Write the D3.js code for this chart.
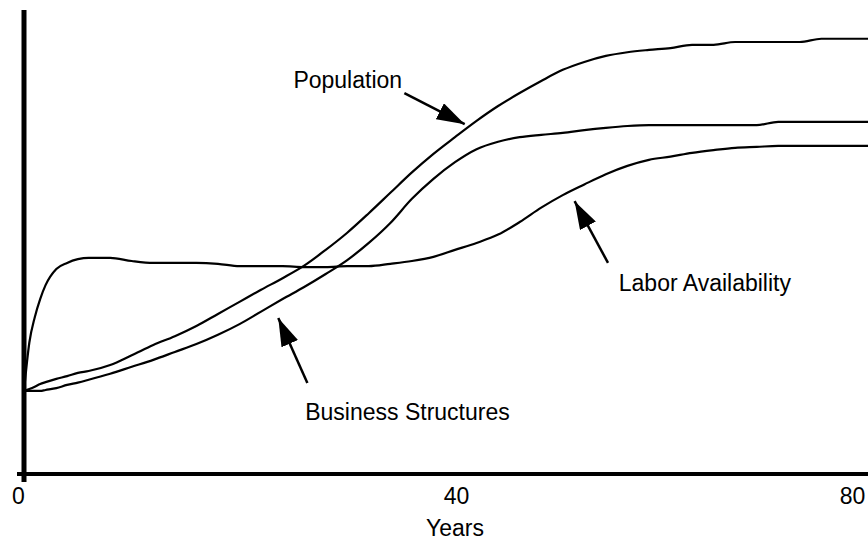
<!DOCTYPE html>
<html>
<head>
<meta charset="utf-8">
<script src="https://cdn.jsdelivr.net/npm/d3@7"></script>
<style>
  html, body { margin: 0; padding: 0; background: #fff; }
  svg { display: block; font-family: "Liberation Sans", Arial, sans-serif; }
</style>
</head>
<body>
<div id="chart"></div>
<script>
// simulation output (years, arbitrary units 0-100)
var years = [0, 0.5, 1, 1.5, 2, 3, 4, 5, 6, 8, 10, 12, 14, 16, 18, 20, 22, 24, 26, 28, 30,
  32, 34, 36, 38, 40, 42, 44, 46, 48, 50, 52, 54, 56, 58, 60, 62, 64, 66, 68, 70,
  72, 74, 76, 78, 80];

var population = [17.9, 18.3, 18.8, 19.4, 19.8, 20.5, 21.1, 21.8, 22.2, 23.5, 25.6, 27.8, 29.7, 31.9, 34.5, 37.1,
  39.7, 42.2, 44.9, 48.3, 52.0, 56.2, 60.6, 65.0, 69.0, 72.6, 76.1, 79.3, 82.1, 84.7, 87.1,
  88.8, 90.1, 90.9, 91.4, 91.8, 92.5, 92.5, 93.1, 93.1, 93.1, 93.1, 93.8, 93.8, 93.8, 93.8];

var businessStructures = [17.9, 17.9, 17.9, 17.9, 18.1, 18.5, 19.2, 19.7, 20.3, 21.6, 23.1, 24.6, 26.3, 28.0, 30.0, 32.3,
  35.0, 37.7, 40.3, 43.1, 46.1, 49.8, 54.1, 59.3, 63.6, 67.2, 70.0, 71.6, 72.6, 73.1, 73.5,
  74.1, 74.6, 75.0, 75.2, 75.2, 75.2, 75.2, 75.2, 75.2, 75.9, 75.9, 75.9, 75.9, 75.9, 75.9];

var laborAvailability = [17.9, 28.4, 33.8, 37.7, 40.7, 44.2, 45.5, 46.3, 46.6, 46.6, 45.9, 45.5, 45.5, 45.5, 45.3, 44.8,
  44.8, 44.8, 44.6, 44.6, 44.8, 44.8, 45.3, 45.9, 46.8, 48.3, 49.8, 51.6, 54.3, 57.4, 60.1,
  62.4, 64.6, 66.4, 67.7, 68.4, 69.2, 69.8, 70.3, 70.5, 70.7, 70.7, 70.7, 70.7, 70.7, 70.7];

var xTicks = [0, 40, 80];
var xTitle = 'Years';

// labels with arrows: text anchor point, arrow tail, arrow tip (years, value)
var labels = [
  { text: 'Population', at: [25.0, 83.2], from: [35.3, 82.1], to: [40.9, 75.4] },
  { text: 'Business Structures', at: [26.1, 11.6], from: [26.3, 19.6], to: [23.6, 33.6] },
  { text: 'Labor Availability', at: [55.2, 39.4], from: [54.2, 45.5], to: [51.1, 58.8] },
];

const WIDTH = 868;
const HEIGHT = 542;
const FONT_SIZE = 23;

var svg = d3
  .select('#chart')
  .append('svg')
  .attr('width', WIDTH)
  .attr('height', HEIGHT);

var x = d3.scaleLinear().domain([0, 80]).range([24, 886]);
var y = d3.scaleLinear().domain([0, 100]).range([474, 10]);

// axes: thick black lines, y axis pokes below the x axis a bit
svg
  .append('line')
  .attr('x1', x(0) - 7)
  .attr('x2', x(80))
  .attr('y1', y(0))
  .attr('y2', y(0))
  .attr('stroke', '#000')
  .attr('stroke-width', 4);

svg
  .append('line')
  .attr('x1', x(0))
  .attr('x2', x(0))
  .attr('y1', y(100))
  .attr('y2', y(0) + 8)
  .attr('stroke', '#000')
  .attr('stroke-width', 5);

var xAxis = svg
  .append('g')
  .attr('transform', `translate(0,${y(0)})`)
  .call(d3.axisBottom(x).tickValues(xTicks).tickSize(0).tickPadding(14));

xAxis.select('.domain').remove();
xAxis
  .selectAll('text')
  .attr('font-family', '"Liberation Sans", Arial, sans-serif')
  .attr('font-size', FONT_SIZE)
  .attr('fill', '#000')
  .attr('dx', (d) => (d === 0 ? -6 : d === 80 ? -34 : 1));

svg
  .append('text')
  .attr('x', x(40))
  .attr('y', y(0) + 62)
  .attr('text-anchor', 'middle')
  .attr('font-size', FONT_SIZE)
  .text(xTitle);

// series
var series = [population, businessStructures, laborAvailability];

var line = d3
  .line()
  .x((d, i) => x(years[i]))
  .y((d) => y(d))
  .curve(d3.curveMonotoneX);

svg
  .selectAll('path.series')
  .data(series)
  .enter()
  .append('path')
  .attr('class', 'series')
  .attr('d', (d) => line(d))
  .attr('fill', 'none')
  .attr('stroke', '#000')
  .attr('stroke-width', 2.2)
  .attr('stroke-linejoin', 'round');

// arrowhead marker
svg
  .append('defs')
  .append('marker')
  .attr('id', 'head')
  .attr('viewBox', '0 0 28 18')
  .attr('refX', 28)
  .attr('refY', 9)
  .attr('markerWidth', 28)
  .attr('markerHeight', 18)
  .attr('markerUnits', 'userSpaceOnUse')
  .attr('orient', 'auto')
  .append('path')
  .attr('d', 'M0,0 L28,9 L0,18 Z')
  .attr('fill', '#000');

svg
  .selectAll('line.arrow')
  .data(labels)
  .enter()
  .append('line')
  .attr('class', 'arrow')
  .attr('x1', (d) => x(d.from[0]))
  .attr('y1', (d) => y(d.from[1]))
  .attr('x2', (d) => x(d.to[0]))
  .attr('y2', (d) => y(d.to[1]))
  .attr('stroke', '#000')
  .attr('stroke-width', 2.5)
  .attr('marker-end', 'url(#head)');

svg
  .selectAll('text.label')
  .data(labels)
  .enter()
  .append('text')
  .attr('class', 'label')
  .attr('x', (d) => x(d.at[0]))
  .attr('y', (d) => y(d.at[1]))
  .attr('font-size', FONT_SIZE)
  .text((d) => d.text);
</script>
</body>
</html>
